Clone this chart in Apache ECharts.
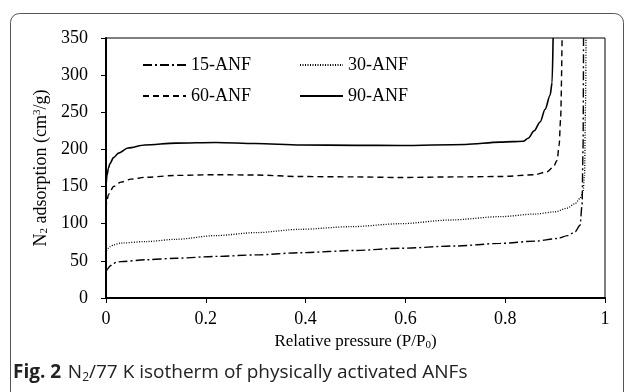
<!DOCTYPE html>
<html>
<head>
<meta charset="utf-8">
<script src="https://cdn.jsdelivr.net/npm/echarts@6/dist/echarts.min.js"></script>
<style>
  html, body { margin: 0; padding: 0; background: #fff; }
  #chart { width: 629px; height: 392px; }
</style>
</head>
<body>
<div id="chart"></div>
<script>
// relative pressure (P/P0) and adsorbed volume (cm3/g)
const p15 = [0, 0.003, 0.008, 0.014, 0.02, 0.03, 0.08, 0.14, 0.22, 0.3, 0.39, 0.5, 0.59, 0.7, 0.79, 0.86, 0.904, 0.925, 0.94, 0.95, 0.954, 0.956, 0.957];
const v15 = [35, 39, 43, 46, 48, 49, 51.5, 53.5, 56, 58, 61, 64, 67, 70, 73.5, 76.5, 80, 84, 89, 98, 125, 200, 350];

const p30 = [0, 0.002, 0.005, 0.008, 0.015, 0.03, 0.08, 0.14, 0.22, 0.3, 0.39, 0.49, 0.59, 0.69, 0.79, 0.86, 0.9, 0.924, 0.94, 0.95, 0.956, 0.959, 0.961, 0.962];
const v30 = [60, 64, 67, 69, 71.5, 74, 76, 79, 84, 88, 92.5, 96, 100, 105, 109.5, 113, 116, 121, 127, 134, 143, 165, 260, 350];

const p60 = [0, 0.002, 0.005, 0.008, 0.015, 0.03, 0.05, 0.08, 0.14, 0.22, 0.3, 0.39, 0.5, 0.59, 0.7, 0.79, 0.86, 0.884, 0.896, 0.904, 0.908, 0.911, 0.914];
const v60 = [120, 132, 139, 143, 150, 156, 160, 162.5, 165, 166, 165.5, 163.5, 163, 162.2, 163, 163.5, 166, 170, 176, 185, 205, 240, 350];

const p90 = [0, 0.002, 0.005, 0.008, 0.015, 0.025, 0.044, 0.078, 0.14, 0.22, 0.3, 0.39, 0.5, 0.59, 0.72, 0.79, 0.815, 0.836, 0.846, 0.858, 0.87, 0.88, 0.89, 0.894, 0.896];
const v90 = [150, 165, 175, 181, 189, 195, 202, 206, 208.5, 209.4, 208, 206, 205.5, 205.3, 206.7, 209.8, 210.5, 211, 215, 225, 237, 254, 273, 290, 350];

const names = ["15-ANF", "30-ANF", "60-ANF", "90-ANF"];

const serif = "'Liberation Serif', 'Times New Roman', serif";
const sans = "'Open Sans', sans-serif";
const zip = (xs, ys) => xs.map((x, i) => [x, ys[i]]);

const chart = echarts.init(document.getElementById("chart"));

const txt = { fontFamily: serif, fontSize: 17, color: "#000", lineHeight: 18 };
const sub = { fontFamily: serif, fontSize: 11, color: "#000", lineHeight: 10, verticalAlign: "bottom" };
const sup = { fontFamily: serif, fontSize: 11, color: "#000", lineHeight: 10, verticalAlign: "top" };

const lineSeries = (name, xs, ys, type, width) => ({
  name: name,
  type: "line",
  data: zip(xs, ys),
  symbol: "none",
  smooth: 0.3,
  smoothMonotone: "x",
  lineStyle: { color: "#000", width: width, type: type },
  itemStyle: { color: "#000" },
});

const legendBase = {
  left: 137,
  itemWidth: 43,
  itemHeight: 14,
  itemGap: 48,
  itemStyle: { opacity: 0 },
  textStyle: { fontFamily: serif, fontSize: 18, color: "#000" },
  inactiveColor: "#000",
};

const option = {
  animation: false,
  grid: { left: 106, right: 24, top: 38, bottom: 94, show: true, borderColor: "#000", borderWidth: 1 },
  legend: [
    Object.assign({}, legendBase, { top: 51, data: [names[0], names[1]] }),
    Object.assign({}, legendBase, { top: 82, data: [names[2], names[3]] }),
  ],
  xAxis: {
    type: "value",
    min: 0,
    max: 1,
    interval: 0.2,
    splitLine: { show: false },
    axisLine: { lineStyle: { color: "#000", width: 2 } },
    axisTick: { length: 5, lineStyle: { color: "#000", width: 1 } },
    axisLabel: { color: "#000", fontFamily: serif, fontSize: 18, margin: 12 },
    name: "{n|Relative pressure (P/P}{s|0}{n|)}",
    nameLocation: "middle",
    nameGap: 34,
    nameTextStyle: { rich: { n: txt, s: sub } },
  },
  yAxis: {
    type: "value",
    min: 0,
    max: 350,
    interval: 50,
    splitLine: { show: false },
    axisLine: { show: true, lineStyle: { color: "#000", width: 2 } },
    axisTick: { show: true, length: 5, lineStyle: { color: "#000", width: 1 } },
    axisLabel: { color: "#000", fontFamily: serif, fontSize: 18, margin: 18 },
    name: "{n|N}{s|2}{n| adsorption (cm}{u|3}{n|/g)}",
    nameLocation: "middle",
    nameGap: 53,
    nameTextStyle: { rich: { n: Object.assign({}, txt, { fontSize: 18 }), s: sub, u: sup } },
  },
  series: [
    lineSeries(names[0], p15, v15, [9, 3, 2, 3], 1.4),
    lineSeries(names[1], p30, v30, [1, 1.5], 1.3),
    lineSeries(names[2], p60, v60, [6, 4], 1.4),
    lineSeries(names[3], p90, v90, "solid", 1.6),
  ],
  graphic: [
    {
      type: "rect",
      shape: { x: 10.5, y: 13.5, width: 613, height: 430, r: 9 },
      style: { fill: "none", stroke: "#555", lineWidth: 1 },
      silent: true,
    },
    {
      type: "text",
      left: 13,
      top: 363,
      style: {
        text: "{b|Fig. 2}  {n|N}{s|2}{n|/77 K isotherm of physically activated ANFs}",
        rich: {
          b: { fontFamily: sans, fontWeight: "bold", fontSize: 19, fill: "#222", lineHeight: 22 },
          n: { fontFamily: sans, fontSize: 19, fill: "#222", lineHeight: 22 },
          s: { fontFamily: sans, fontSize: 12, fill: "#222", lineHeight: 12, verticalAlign: "bottom" },
        },
      },
    },
  ],
};

chart.setOption(option);
</script>
</body>
</html>
